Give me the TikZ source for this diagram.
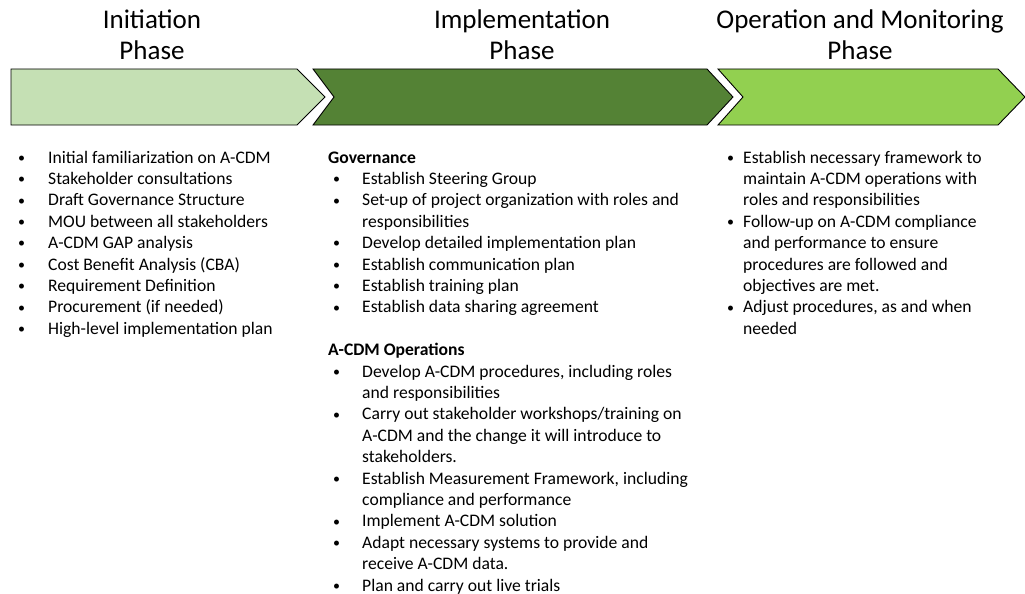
\documentclass[tikz,border=0pt]{standalone}
\usepackage{fontspec}
\setmainfont{Carlito}
\usetikzlibrary{positioning}

\definecolor{initgreen}{HTML}{C5E0B4}
\definecolor{implgreen}{HTML}{548235}
\definecolor{opergreen}{HTML}{92D050}

% bullet line: #1 = bullet offset, #2 = text indent, #3 = text
\newcommand{\phaseitem}[3]{\par\hangindent=#2\hangafter=1\noindent
  \makebox[#2][l]{\hspace{#1}\raisebox{0.8pt}{\fontsize{14}{14}\selectfont\textbullet}}#3}
% list box, first baseline on the node's base
\newenvironment{phasebox}[1]{\begin{minipage}[t]{#1}\raggedright}{\end{minipage}}

\tikzset{
  phasebar/.style={draw=black, line width=0.9pt, line join=miter},
  phasetitle/.style={align=center, inner sep=0pt,
    font=\fontsize{27}{31}\selectfont},
  phaselist/.style={anchor=base west, inner sep=0pt,
    font=\fontsize{17.6}{21.4}\selectfont},
}

\begin{document}
\begin{tikzpicture}[x=1pt,y=-1pt]
\useasboundingbox (0,0) rectangle (1025,594);

% phase titles
\node[phasetitle] (inittitle) at (152,35) {Initiation\\Phase};
\node[phasetitle] (impltitle) at (522,35) {Implementation\\Phase};
\node[phasetitle] (opertitle) at (860,35) {Operation and Monitoring\\Phase};

% chevrons
\draw[phasebar, fill=initgreen] (11,69) -- (297,69) -- (325,97) -- (297,125) -- (11,125) -- cycle;
\draw[phasebar, fill=implgreen] (313,69) -- (707,69) -- (733,97) -- (707,125) -- (313,125) -- (334,97) -- cycle;
\draw[phasebar, fill=opergreen] (718,69) -- (998,69) -- (1025,97) -- (998,125) -- (718,125) -- (743,97) -- cycle;

% initiation
\node[phaselist] (initlist) at (17,163) {\begin{phasebox}{300pt}
  \phaseitem{1pt}{31pt}{Initial familiarization on A-CDM}
  \phaseitem{1pt}{31pt}{Stakeholder consultations}
  \phaseitem{1pt}{31pt}{Draft Governance Structure}
  \phaseitem{1pt}{31pt}{MOU between all stakeholders}
  \phaseitem{1pt}{31pt}{A-CDM GAP analysis}
  \phaseitem{1pt}{31pt}{Cost Benefit Analysis (CBA)}
  \phaseitem{1pt}{31pt}{Requirement Definition}
  \phaseitem{1pt}{31pt}{Procurement (if needed)}
  \phaseitem{1pt}{31pt}{High-level implementation plan}
  \end{phasebox}};

% implementation
\node[phaselist] (impllist) at (328,163) {\begin{phasebox}{390pt}
  \noindent\textbf{Governance}
  \phaseitem{5pt}{34pt}{Establish Steering Group}
  \phaseitem{5pt}{34pt}{Set-up of project organization with roles and\newline responsibilities}
  \phaseitem{5pt}{34pt}{Develop detailed implementation plan}
  \phaseitem{5pt}{34pt}{Establish communication plan}
  \phaseitem{5pt}{34pt}{Establish training plan}
  \phaseitem{5pt}{34pt}{Establish data sharing agreement}
  \par\vspace{21.4pt}\noindent
  \textbf{A-CDM Operations}
  \phaseitem{5pt}{34pt}{Develop A-CDM procedures, including roles\newline and responsibilities}
  \phaseitem{5pt}{34pt}{Carry out stakeholder workshops/training on\newline A-CDM and the change it will introduce to\newline stakeholders.}
  \phaseitem{5pt}{34pt}{Establish Measurement Framework, including\newline compliance and performance}
  \phaseitem{5pt}{34pt}{Implement A-CDM solution}
  \phaseitem{5pt}{34pt}{Adapt necessary systems to provide and\newline receive A-CDM data.}
  \phaseitem{5pt}{34pt}{Plan and carry out live trials}
  \end{phasebox}};

% operation and monitoring
\node[phaselist] (operlist) at (726,163) {\begin{phasebox}{295pt}
  \phaseitem{1pt}{17pt}{Establish necessary framework to\newline maintain A-CDM operations with\newline roles and responsibilities}
  \phaseitem{1pt}{17pt}{Follow-up on A-CDM compliance\newline and performance to ensure\newline procedures are followed and\newline objectives are met.}
  \phaseitem{1pt}{17pt}{Adjust procedures, as and when\newline needed}
  \end{phasebox}};
\end{tikzpicture}
\end{document}
